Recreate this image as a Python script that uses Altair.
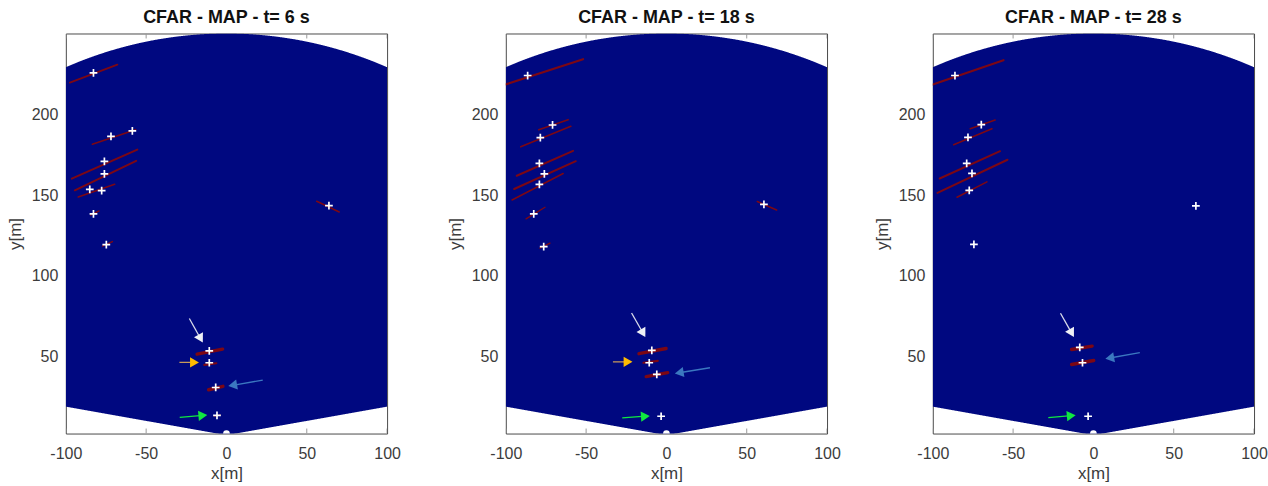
import math
import numpy as np
import pandas as pd
import altair as alt

# ---------------- data ----------------
TITLES = ["CFAR - MAP - t= 6 s", "CFAR - MAP - t= 18 s", "CFAR - MAP - t= 28 s"]

# detected targets (white "+")
P1_X = [-82.8, -58.6, -71.9, -76.0, -76.0, -85.1, -77.7, -82.8, -74.8, 63.8, -10.7, -10.7, -6.7, -5.9]
P1_Y = [225.6, 189.7, 186.4, 170.9, 163.1, 153.6, 152.8, 138.4, 119.4, 143.5, 53.7, 46.3, 31.0, 13.7]
P2_X = [-86.4, -70.9, -78.5, -79.1, -76.0, -79.1, -82.6, -76.4, 60.7, -9.1, -10.7, -6.0, -3.3]
P2_Y = [224.0, 193.4, 185.6, 169.6, 163.2, 156.6, 138.4, 118.2, 144.3, 53.9, 46.3, 39.1, 13.2]
P3_X = [-86.2, -69.8, -78.1, -78.9, -75.6, -77.3, -74.4, 63.8, -8.5, -6.8, -3.3]
P3_Y = [224.0, 193.6, 185.7, 169.6, 163.4, 153.0, 119.5, 143.3, 55.8, 46.3, 13.2]

# CFAR detection streaks (dark red): x1, y1, x2, y2, thickness
P1_STREAK_X1 = [-97.5, -83.5, -96.3, -94.4, -92.3, -84.5, -77.2, 56.2, -18.3, -13.8, -11.1, -7.5]
P1_STREAK_Y1 = [219.6, 181.5, 160.2, 153.0, 148.9, 137.6, 118.4, 146.2, 51.6, 45.0, 29.6, 13.3]
P1_STREAK_X2 = [-67.9, -56.6, -55.5, -56.2, -69.6, -79.3, -71.0, 70.2, -2.4, -6.3, -2.2, -4.0]
P1_STREAK_Y2 = [230.7, 190.5, 178.2, 171.2, 156.7, 140.2, 121.3, 139.6, 54.7, 46.0, 31.7, 14.0]
P1_STREAK_W = [1.8, 1.6, 2.0, 2.0, 1.6, 1.4, 1.4, 1.6, 3.4, 2.2, 3.4, 1.4]

P2_STREAK_X1 = [-100.0, -79.5, -90.7, -93.2, -94.8, -96.1, -87.4, -78.7, 56.6, -17.1, -14.3, -12.6]
P2_STREAK_Y1 = [218.5, 190.5, 179.9, 162.0, 153.8, 147.0, 135.3, 117.2, 146.0, 51.9, 46.3, 37.7]
P2_STREAK_X2 = [-51.9, -61.2, -59.5, -58.1, -56.4, -64.3, -75.6, -72.5, 68.6, -0.2, -5.4, 0.8]
P2_STREAK_Y2 = [234.1, 196.7, 192.6, 177.4, 171.0, 163.4, 142.5, 120.3, 140.8, 55.1, 47.5, 40.2]
P2_STREAK_W = [2.2, 1.6, 1.6, 2.0, 2.0, 1.6, 1.4, 1.4, 1.6, 3.4, 2.2, 3.4]

P3_STREAK_X1 = [-100.0, -76.7, -87.0, -95.7, -97.1, -84.9, -13.6, -13.6]
P3_STREAK_Y1 = [218.4, 191.1, 181.2, 160.3, 151.4, 148.7, 54.5, 45.2]
P3_STREAK_X2 = [-56.0, -61.2, -63.2, -58.1, -53.5, -66.3, -0.8, 0.2]
P3_STREAK_Y2 = [233.5, 196.5, 191.1, 177.2, 171.9, 158.2, 56.6, 47.7]
P3_STREAK_W = [2.2, 1.6, 1.6, 2.0, 2.0, 1.6, 3.4, 3.4]

# annotation arrows: tail x, tail y, tip x, tip y, head colour, shaft colour
P1_ARROW_TX = [-23.1, -29.3, 22.6, -29.1]
P1_ARROW_TY = [73.7, 46.5, 35.6, 12.5]
P1_ARROW_HX = [-14.8, -17.3, 1.3, -12.1]
P1_ARROW_HY = [58.9, 46.5, 31.9, 13.9]
P1_ARROW_C = ["#eef0f6", "#ffbb00", "#3b78c0", "#10e840"]
P1_ARROW_S = ["#d8dcea", "#c89a5a", "#3b78c0", "#10e840"]

P2_ARROW_TX = [-21.7, -33.3, 27.1, -27.5]
P2_ARROW_TY = [77.1, 46.9, 43.2, 12.2]
P2_ARROW_HX = [-13.2, -21.3, 5.4, -10.5]
P2_ARROW_HY = [62.3, 46.9, 39.7, 13.4]
P2_ARROW_C = ["#eef0f6", "#ffbb00", "#3b78c0", "#10e840"]
P2_ARROW_S = ["#d8dcea", "#c89a5a", "#3b78c0", "#10e840"]

P3_ARROW_TX = [-20.5, 28.9, -28.1]
P3_ARROW_TY = [76.9, 52.5, 12.3]
P3_ARROW_HX = [-12.2, 7.6, -11.2]
P3_ARROW_HY = [62.4, 48.8, 13.8]
P3_ARROW_C = ["#eef0f6", "#3b78c0", "#10e840"]
P3_ARROW_S = ["#d8dcea", "#3b78c0", "#10e840"]

X_TICKS = [-100, -50, 0, 50, 100]
Y_TICKS = [50, 100, 150, 200]

# radar coverage geometry
RADIUS = 250.0
EDGE_ANGLE_DEG = 10.0   # lower edge of the field of view, from the x axis
APEX_Y = 1.5
X_DOMAIN = [-100, 100]
Y_DOMAIN = [2.5, 250]

W, H = 322, 401
FONT = "Liberation Sans"
BLUE = "#000880"
RED = "#8a0808"

# ---------------- build ----------------
xs = np.linspace(X_DOMAIN[0], X_DOMAIN[1], 801)
sector = pd.DataFrame({
    "x": xs,
    "lo": APEX_Y + np.abs(xs) * math.tan(math.radians(EDGE_ANGLE_DEG)),
    "hi": np.minimum(np.sqrt(RADIUS ** 2 - xs ** 2), Y_DOMAIN[1]),
})

xscale = alt.Scale(domain=X_DOMAIN, nice=False, zero=False)
yscale = alt.Scale(domain=Y_DOMAIN, nice=False, zero=False)

LABEL_EXPR = "datum.value < 0 ? '-' + abs(datum.value) : '' + datum.value"

xaxis = alt.Axis(values=X_TICKS, title="x[m]", grid=False, domain=False, tickSize=0,
                 labelFontSize=16, titleFontSize=17, titleFontWeight="normal",
                 labelPadding=12, titlePadding=4, labelColor="#3c3c3c", titleColor="#3c3c3c",
                 labelFont=FONT, titleFont=FONT, labelFlush=False, labelExpr=LABEL_EXPR)
yaxis = alt.Axis(values=Y_TICKS, title="y[m]", grid=False, domain=False, tickSize=0,
                 labelFontSize=16, titleFontSize=17, titleFontWeight="normal",
                 labelPadding=8, titlePadding=7, labelColor="#3c3c3c", titleColor="#3c3c3c",
                 labelFont=FONT, titleFont=FONT)


def panel(title, mx, my, sx1, sy1, sx2, sy2, sw, atx, aty, ahx, ahy, acol, ascol):
    markers = pd.DataFrame({"x": mx, "y": my})
    streaks = pd.DataFrame({"x1": sx1, "y1": sy1, "x2": sx2, "y2": sy2, "w": sw})
    ang, hx, hy = [], [], []
    for tx, ty, px, py in zip(atx, aty, ahx, ahy):
        dx, dy = px - tx, py - ty
        L = math.hypot(dx, dy)
        ang.append(math.degrees(math.atan2(dx, dy)) % 360)
        hx.append(px - dx / L * 2.6)
        hy.append(py - dy / L * 2.6)
    arrows = pd.DataFrame({"tx": atx, "ty": aty, "hx": hx, "hy": hy,
                           "ang": ang, "c": acol, "s": ascol})
    ticks = pd.DataFrame({"t": X_TICKS})

    base_x = alt.X("x:Q", scale=xscale, axis=xaxis)
    base_y = alt.Y("y:Q", scale=yscale, axis=yaxis)

    tick_b = alt.Chart(ticks).mark_rule(color="#9a9a9a", strokeWidth=1, clip=True).encode(
        x=alt.X("t:Q", scale=xscale, axis=xaxis), y=alt.value(H), y2=alt.value(H - 5))
    tick_t = alt.Chart(ticks).mark_rule(color="#9a9a9a", strokeWidth=1, clip=True).encode(
        x=alt.X("t:Q", scale=xscale, axis=xaxis), y=alt.value(0), y2=alt.value(5))

    area = alt.Chart(sector).mark_area(color=BLUE, clip=True, opacity=1).encode(
        x=base_x,
        y=alt.Y("lo:Q", scale=yscale, axis=yaxis),
        y2="hi:Q",
    )
    strk = alt.Chart(streaks).mark_rule(color=RED, strokeCap="round", clip=True, opacity=0.9).encode(
        x=alt.X("x1:Q", scale=xscale, axis=xaxis),
        y=alt.Y("y1:Q", scale=yscale, axis=yaxis),
        x2="x2:Q", y2="y2:Q",
        strokeWidth=alt.StrokeWidth("w:Q", scale=None),
    )
    plus = alt.Chart(markers).mark_point(
        shape="M-1,0L1,0M0,-1L0,1", filled=False, color="white", size=60,
        strokeWidth=1.7, opacity=1, clip=True).encode(x=base_x, y=base_y)
    origin = alt.Chart(pd.DataFrame({"x": [0], "y": [Y_DOMAIN[0]]})).mark_point(
        shape="circle", filled=True, color="white", size=45, opacity=1, clip=True).encode(
        x=base_x, y=base_y)
    shaft = alt.Chart(arrows).mark_rule(strokeWidth=1.3, clip=True).encode(
        x=alt.X("tx:Q", scale=xscale, axis=xaxis),
        y=alt.Y("ty:Q", scale=yscale, axis=yaxis),
        x2="hx:Q", y2="hy:Q",
        color=alt.Color("s:N", scale=None),
    )
    head = alt.Chart(arrows).mark_point(shape="triangle-up", filled=True, size=105,
                                        opacity=1, clip=True).encode(
        x=alt.X("hx:Q", scale=xscale, axis=xaxis),
        y=alt.Y("hy:Q", scale=yscale, axis=yaxis),
        angle=alt.Angle("ang:Q", scale=None),
        color=alt.Color("c:N", scale=None),
    )
    return alt.layer(tick_b, tick_t, area, strk, plus, origin, shaft, head).properties(
        width=W, height=H,
        title=alt.TitleParams(title, fontSize=18, fontWeight="bold", font=FONT,
                              color="#111111", offset=7),
    )


def spacer(w):
    return alt.Chart(pd.DataFrame({"a": [0]})).mark_point(opacity=0).encode(
        x=alt.value(0), y=alt.value(0)).properties(
        width=w, height=H, view=alt.ViewBackground(stroke="transparent"))


p1 = panel(TITLES[0], P1_X, P1_Y, P1_STREAK_X1, P1_STREAK_Y1, P1_STREAK_X2, P1_STREAK_Y2,
           P1_STREAK_W, P1_ARROW_TX, P1_ARROW_TY, P1_ARROW_HX, P1_ARROW_HY, P1_ARROW_C, P1_ARROW_S)
p2 = panel(TITLES[1], P2_X, P2_Y, P2_STREAK_X1, P2_STREAK_Y1, P2_STREAK_X2, P2_STREAK_Y2,
           P2_STREAK_W, P2_ARROW_TX, P2_ARROW_TY, P2_ARROW_HX, P2_ARROW_HY, P2_ARROW_C, P2_ARROW_S)
p3 = panel(TITLES[2], P3_X, P3_Y, P3_STREAK_X1, P3_STREAK_Y1, P3_STREAK_X2, P3_STREAK_Y2,
           P3_STREAK_W, P3_ARROW_TX, P3_ARROW_TY, P3_ARROW_HX, P3_ARROW_HY, P3_ARROW_C, P3_ARROW_S)

chart = alt.hconcat(p1, spacer(119), p2, spacer(106), p3, spacing=0, bounds="flush").properties(
    padding={"left": 5, "top": 7, "right": 0, "bottom": 0},
    background="white",
).configure_view(stroke="#4a4a4a", strokeWidth=1)

chart.save("out.html", embed_options={"renderer": "svg", "actions": False})
